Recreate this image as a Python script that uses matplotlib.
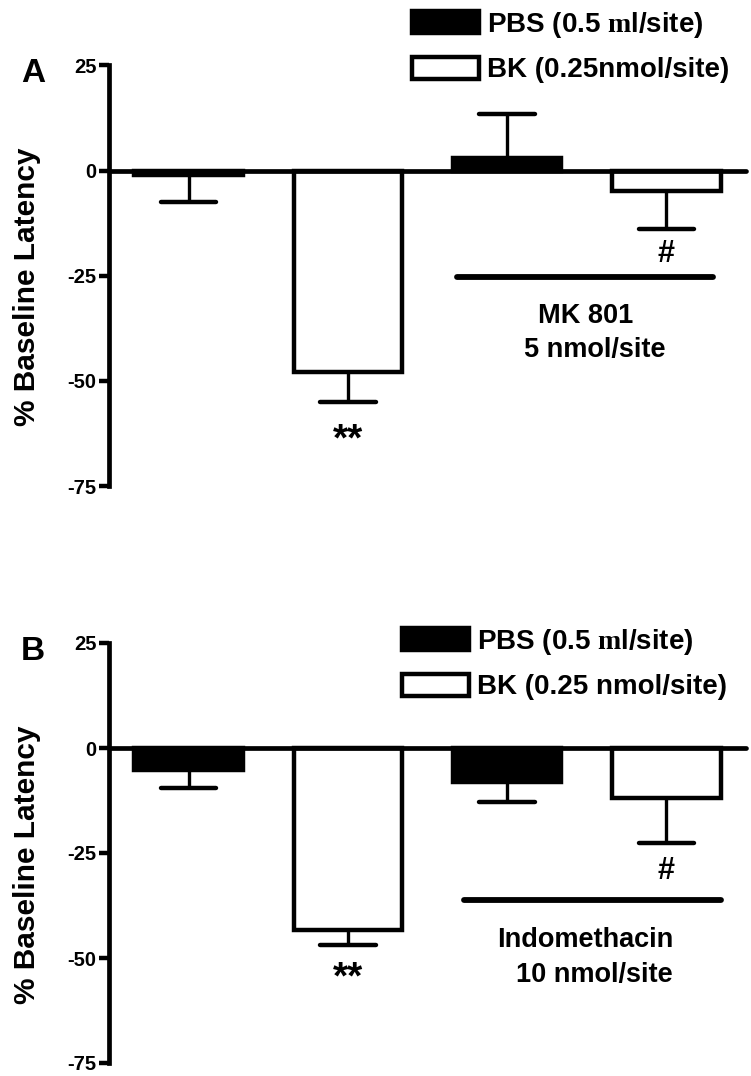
import matplotlib
matplotlib.use("Agg")
import matplotlib.pyplot as plt
import numpy as np

plt.rcParams['font.family'] = ['Liberation Sans', 'DejaVu Sans']
plt.rcParams['font.weight'] = 'bold'
plt.rcParams['mathtext.fontset'] = 'custom'
plt.rcParams['mathtext.rm'] = 'Liberation Serif'

# group values (% change from baseline latency) and SEM
means_a = [-1.0, -47.8, 3.0, -4.8]
sem_a = [6.5, 7.2, 10.5, 9.0]
means_b = [-5.3, -43.4, -8.1, -12.0]
sem_b = [4.2, 3.4, 4.8, 10.6]
colors = ['black', 'white', 'black', 'white']
yticks = [-75, -50, -25, 0, 25]

legend_a = ["PBS (0.5 $\\mathrm{m}$l/site)", "BK (0.25nmol/site)"]
legend_b = ["PBS (0.5 $\\mathrm{m}$l/site)", "BK (0.25 nmol/site)"]
treat_a = ["MK 801", "5 nmol/site"]
treat_b = ["Indomethacin", "10 nmol/site"]

W, H = 751, 1076
fig = plt.figure(figsize=(W / 100, H / 100), dpi=100)


def panel(rect, means, sem, letter, leg_labels, leg_pos, line_span, line_y,
          star_y, hash_y, treat, treat_y, label_y):
    ax = fig.add_axes(rect)
    x = np.arange(len(means))
    bars = ax.bar(x, means, width=0.68, color=colors, edgecolor='black',
                  linewidth=3.2, zorder=3)
    # one-sided error bars, away from zero
    means = np.array(means)
    ends = means + np.sign(means) * np.array(sem)
    ax.vlines(x, means, ends, color='black', linewidth=2.4, zorder=2)
    ax.hlines(ends, x - 0.175, x + 0.175, color='black', linewidth=3.2,
              zorder=2, capstyle='round')

    ax.set_xlim(-0.5, 3.5)
    ax.set_ylim(-75, 25)
    ax.set_yticks(yticks)
    ax.set_yticklabels([str(t) for t in yticks], fontsize=14.5, fontweight='bold')
    ax.set_xticks([])
    for s in ['top', 'right']:
        ax.spines[s].set_visible(False)
    ax.spines['bottom'].set_position(('data', 0))
    ax.spines['bottom'].set_linewidth(3.4)
    ax.spines['bottom'].set_capstyle('round')
    ax.spines['left'].set_linewidth(3.4)
    ax.spines['bottom'].set_zorder(4)
    ax.tick_params(axis='y', length=7, width=3.2, pad=2)

    # treatment line and labels
    ax.plot(line_span, [line_y, line_y], color='black', linewidth=4.2,
            solid_capstyle='round')
    ax.text(1.0, star_y, "**", ha='center', va='center', fontsize=28,
            fontweight='bold')
    ax.text(3.0, hash_y, "#", ha='center', va='center', fontsize=22,
            fontweight='bold')
    ax.text(2.49, treat_y[0], treat[0], ha='center', va='center',
            fontsize=19.5, fontweight='bold')
    ax.text(2.55, treat_y[1], treat[1], ha='center', va='center',
            fontsize=19.5, fontweight='bold')

    fig.text(27 / W, label_y, "% Baseline Latency", rotation=90,
             ha='center', va='center', fontsize=21.5, fontweight='bold')
    fig.text(33 / W, rect[1] + rect[3] - 8 / H, letter, ha='center',
             va='center', fontsize=24, fontweight='bold')

    ax.legend([bars[0], bars[1]], leg_labels, loc='upper left',
              bbox_to_anchor=leg_pos, bbox_transform=fig.transFigure,
              frameon=False, prop={'weight': 'bold', 'size': 20},
              handlelength=2.4, handleheight=0.85, handletextpad=0.3,
              labelspacing=0.6, borderpad=0, borderaxespad=0)
    return ax


left = 109 / W
width = (746 - 109) / W
panel([left, 1 - 486 / H, width, (486 - 65.5) / H], means_a, sem_a, "A",
      legend_a, (412 / W, 1 - 10 / H), [1.685, 3.293], -25.2,
      -64.2, -19.8, treat_a, [-34.5, -42.7], 1 - 287 / H)
panel([left, 1 - 1063 / H, width, (1063 - 643) / H], means_b, sem_b, "B",
      legend_b, (402 / W, 1 - 627 / H), [1.73, 3.34], -36.1,
      -54.8, -29.3, treat_b, [-45.8, -54.1], 1 - 865 / H)

fig.savefig("out.png", dpi=100)
